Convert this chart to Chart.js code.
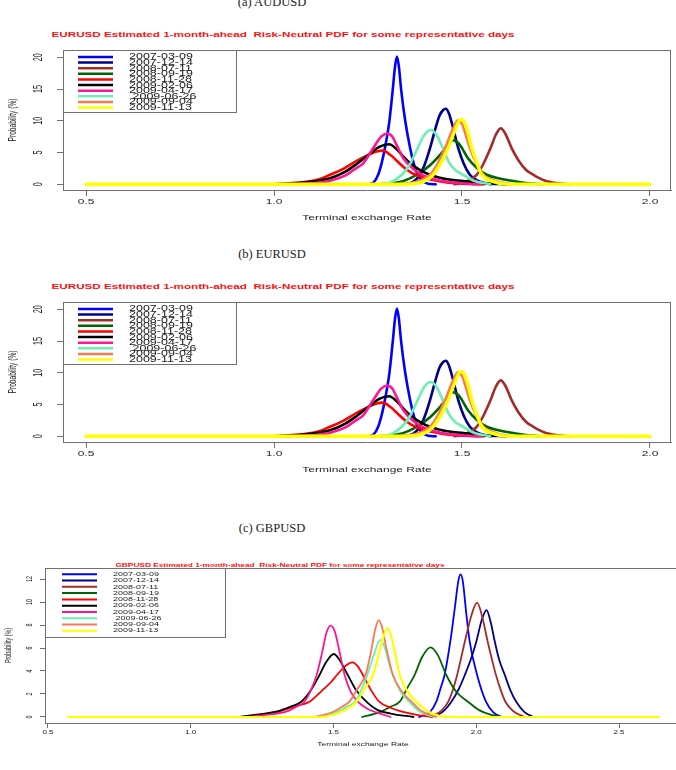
<!DOCTYPE html>
<html><head><meta charset="utf-8">
<script src="https://cdn.jsdelivr.net/npm/chart.js@4.4.1/dist/chart.umd.min.js"></script>
<style>
html,body{margin:0;padding:0;background:#fff;}
body{width:676px;height:770px;position:relative;overflow:hidden;font-family:"Liberation Sans",Arial,sans-serif;}
.cap{position:absolute;font-family:"Liberation Serif","Times New Roman",serif;font-size:12.5px;color:#222;white-space:pre;transform:translate(-50%,-50%);}
.ttl{position:absolute;font-weight:bold;color:#ff1010;white-space:pre;font-family:"Liberation Sans",Arial,sans-serif;}
canvas{position:absolute;left:0;}
</style></head><body>
<div class="cap" style="left:272px;top:2px">(a) AUDUSD</div>
<div class="ttl" id="ta" style="left:283px;top:34px;font-size:11.7px;transform:translate(-50%,-50%) scaleY(0.68)"></div>
<canvas id="ca" width="676" height="185" style="top:45px"></canvas>
<div class="cap" style="left:272px;top:253.5px">(b) EURUSD</div>
<div class="ttl" id="tb" style="left:283px;top:285.5px;font-size:11.7px;transform:translate(-50%,-50%) scaleY(0.68)"></div>
<canvas id="cb" width="676" height="185" style="top:297px"></canvas>
<div class="cap" style="left:272px;top:527.5px">(c) GBPUSD</div>
<div class="ttl" id="tc" style="left:280px;top:565px;font-size:8.3px;transform:translate(-50%,-50%) scaleY(0.68)"></div>
<canvas id="cc" width="676" height="210" style="top:560px"></canvas>
<script>
// ---------- DATA ----------
const dates = ['2007-03-09','2007-12-14','2008-07-11','2008-09-19','2008-11-28','2009-02-06','2009-04-17',' 2009-06-26','2009-09-04','2009-11-13'];
const titleEUR = 'EURUSD Estimated 1-month-ahead  Risk-Neutral PDF for some representative days';
const titleGBP = 'GBPUSD Estimated 1-month-ahead  Risk-Neutral PDF for some representative days';
const xTitle = 'Terminal exchange Rate';
const yTitle = 'Probability (%)';
const eurXTicks = [0.5, 1.0, 1.5, 2.0];
const eurYTicks = [0, 5, 10, 15, 20];
const gbpXTicks = [0.5, 1.0, 1.5, 2.0, 2.5];
const gbpYTicks = [0, 2, 4, 6, 8, 10, 12];

// EURUSD densities: [rate, probability %]
const eur_20070309 = [[1.25,0],[1.265,0.3],[1.277,1.5],[1.287,3.5],[1.295,5.7],[1.307,10],[1.316,15],[1.322,18.6],[1.327,20.1],[1.332,18.6],[1.338,15],[1.349,10],[1.362,5.7],[1.372,3.2],[1.382,1.5],[1.395,0.5],[1.41,0.1],[1.43,0]];
const eur_20071214 = [[1.34,0],[1.37,0.4],[1.388,1.5],[1.40,3.0],[1.415,5.7],[1.428,8.5],[1.44,10.8],[1.45,11.7],[1.457,11.9],[1.465,11.2],[1.475,9.2],[1.49,5.7],[1.505,3.2],[1.521,1.5],[1.54,0.6],[1.575,0]];
const eur_20080711 = [[1.48,0],[1.51,0.4],[1.539,1.5],[1.555,3.0],[1.576,5.7],[1.59,7.8],[1.603,8.8],[1.615,8.0],[1.632,5.7],[1.65,3.8],[1.67,2.3],[1.69,1.5],[1.72,0.6],[1.75,0.2],[1.79,0]];
const eur_20080919 = [[1.28,0],[1.33,0.3],[1.36,0.9],[1.39,1.9],[1.415,3.0],[1.44,4.5],[1.46,6.0],[1.476,6.95],[1.49,6.5],[1.50,5.7],[1.516,4.1],[1.539,2.6],[1.566,1.5],[1.60,0.9],[1.628,0.6],[1.67,0.2],[1.71,0]];
const eur_20081128 = [[0.99,0],[1.04,0.15],[1.08,0.35],[1.12,0.8],[1.149,1.5],[1.18,2.3],[1.22,3.7],[1.25,4.6],[1.275,5.2],[1.29,5.3],[1.31,4.6],[1.33,3.5],[1.353,2.3],[1.38,1.4],[1.42,0.7],[1.46,0.3],[1.52,0.05],[1.56,0]];
const eur_20090206 = [[1.0,0],[1.06,0.15],[1.10,0.4],[1.149,0.95],[1.19,2.0],[1.22,3.2],[1.255,4.8],[1.28,5.9],[1.306,6.3],[1.325,5.6],[1.345,4.3],[1.362,3.3],[1.39,2.2],[1.415,1.5],[1.45,0.9],[1.504,0.5],[1.56,0.15],[1.62,0]];
const eur_20090417 = [[1.05,0],[1.10,0.15],[1.149,0.55],[1.19,1.4],[1.215,2.4],[1.237,3.3],[1.264,5.7],[1.285,7.5],[1.301,8.0],[1.315,7.5],[1.326,6.2],[1.344,4.1],[1.371,2.4],[1.40,1.3],[1.44,0.6],[1.49,0.2],[1.55,0]];
const eur_20090626 = [[1.28,0],[1.31,0.3],[1.34,1.5],[1.36,3.0],[1.382,5.7],[1.40,7.8],[1.417,8.56],[1.432,7.8],[1.449,5.7],[1.465,3.5],[1.483,2.2],[1.503,1.5],[1.53,0.6],[1.575,0]];
const eur_20090904 = [[1.33,0],[1.38,0.4],[1.415,1.5],[1.435,3.2],[1.455,5.7],[1.475,8.6],[1.49,10.1],[1.50,9.5],[1.51,7.8],[1.521,5.7],[1.538,3.3],[1.557,1.5],[1.59,0.5],[1.63,0]];
const eur_20091113 = [[0.5,0],[1.35,0],[1.40,0.5],[1.423,1.5],[1.445,3.5],[1.463,5.7],[1.48,8.3],[1.496,10.2],[1.506,9.8],[1.515,8.3],[1.526,5.7],[1.54,3.3],[1.553,1.5],[1.58,0.5],[1.62,0.02],[2.0,0]];

// GBPUSD densities: [rate, probability %]
const gbp_20070309 = [[1.80,0],[1.84,0.5],[1.86,1.33],[1.875,2.5],[1.889,3.65],[1.909,6.55],[1.925,9.5],[1.937,11.8],[1.945,12.4],[1.953,11.8],[1.965,9.0],[1.977,6.55],[2.003,3.65],[2.034,1.33],[2.06,0.4],[2.09,0]];
const gbp_20071214 = [[1.84,0],[1.88,0.4],[1.913,1.33],[1.94,2.5],[1.96,3.65],[1.985,5.3],[2.0,6.55],[2.02,8.5],[2.036,9.3],[2.05,8.3],[2.065,6.55],[2.08,5.0],[2.1,3.65],[2.12,2.3],[2.14,1.33],[2.17,0.4],[2.20,0]];
const gbp_20080711 = [[1.84,0],[1.88,0.6],[1.902,1.33],[1.92,2.5],[1.933,3.65],[1.96,6.55],[1.985,9.0],[2.003,9.94],[2.02,8.8],[2.04,6.55],[2.055,5.0],[2.069,3.65],[2.085,2.4],[2.102,1.33],[2.13,0.5],[2.17,0]];
const gbp_20080919 = [[1.60,0],[1.66,0.4],[1.70,0.9],[1.732,1.33],[1.76,2.6],[1.784,3.65],[1.81,5.2],[1.84,6.06],[1.865,5.4],[1.895,3.65],[1.93,2.2],[1.971,1.33],[2.01,0.6],[2.05,0.2],[2.09,0]];
const gbp_20081128 = [[1.17,0],[1.22,0.1],[1.26,0.25],[1.31,0.46],[1.36,0.9],[1.416,1.33],[1.46,2.3],[1.49,3.0],[1.512,3.65],[1.54,4.4],[1.566,4.75],[1.585,4.4],[1.603,3.65],[1.63,2.4],[1.66,1.33],[1.70,0.8],[1.74,0.46],[1.80,0.15],[1.85,0]];
const gbp_20090206 = [[1.17,0],[1.23,0.2],[1.299,0.46],[1.35,0.9],[1.387,1.33],[1.42,2.3],[1.451,3.65],[1.475,4.8],[1.501,5.48],[1.52,5.0],[1.55,3.65],[1.58,2.3],[1.615,1.33],[1.655,0.6],[1.70,0.3],[1.78,0]];
const gbp_20090417 = [[1.20,0],[1.27,0.2],[1.334,0.46],[1.37,0.9],[1.398,1.33],[1.42,2.3],[1.441,3.65],[1.46,5.6],[1.475,7.3],[1.49,7.94],[1.505,7.4],[1.52,5.8],[1.539,3.65],[1.56,2.2],[1.585,1.33],[1.62,0.7],[1.65,0.4],[1.70,0]];
const gbp_20090626 = [[1.45,0],[1.50,0.3],[1.54,0.8],[1.574,1.33],[1.60,2.5],[1.618,3.65],[1.64,5.3],[1.664,6.7],[1.68,6.0],[1.695,4.6],[1.708,3.65],[1.735,2.2],[1.765,1.33],[1.80,0.5],[1.85,0]];
const gbp_20090904 = [[1.43,0],[1.47,0.2],[1.50,0.46],[1.53,0.9],[1.556,1.33],[1.58,2.3],[1.612,3.65],[1.63,5.5],[1.645,7.5],[1.658,8.43],[1.67,7.8],[1.685,6.0],[1.708,3.65],[1.74,2.2],[1.773,1.33],[1.81,0.5],[1.86,0]];
const gbp_20091113 = [[0.57,0],[1.45,0],[1.50,0.2],[1.54,0.6],[1.58,1.33],[1.61,2.5],[1.638,3.65],[1.66,5.6],[1.675,7.0],[1.688,7.7],[1.70,7.2],[1.715,5.6],[1.732,3.65],[1.76,2.2],[1.79,1.33],[1.83,0.5],[1.87,0.1],[1.92,0],[2.64,0]];

const eurSeries = [eur_20070309, eur_20071214, eur_20080711, eur_20080919, eur_20081128, eur_20090206, eur_20090417, eur_20090626, eur_20090904, eur_20091113];
const gbpSeries = [gbp_20070309, gbp_20071214, gbp_20080711, gbp_20080919, gbp_20081128, gbp_20090206, gbp_20090417, gbp_20090626, gbp_20090904, gbp_20091113];

// ---------- STYLE ----------
const colors = ['#0000FF','#00008B','#A52A2A','#006400','#FF0000','#000000','#FF1493','#6CEFB0','#FA7A55','#FFFF00'];
const FONT = '"Liberation Sans", Arial, Helvetica, sans-serif';

document.getElementById('ta').textContent = titleEUR;
document.getElementById('tb').textContent = titleEUR;
document.getElementById('tc').textContent = titleGBP;

const rStyle = {
  id: 'rstyle',
  afterDraw(chart, args, o) {
    const ctx = chart.ctx, a = chart.chartArea, xs = chart.scales.x, ys = chart.scales.y;
    ctx.save();
    ctx.strokeStyle = o.boxColor; ctx.lineWidth = 1;
    ctx.beginPath();
    const t = Math.round(a.top) + 0.5;
    ctx.moveTo(a.left, t); ctx.lineTo(a.right, t);
    if (o.boxRight) { const r = Math.round(a.right) - 0.5; ctx.moveTo(r, a.top); ctx.lineTo(r, a.bottom); }
    ctx.stroke();
    ctx.fillStyle = o.textColor; ctx.textAlign = 'center'; ctx.textBaseline = 'middle';
    ctx.font = o.yTickSize + 'px ' + FONT;
    ys.ticks.forEach(tk => {
      const py = ys.getPixelForValue(tk.value);
      ctx.save(); ctx.translate(o.yTickX, py); ctx.rotate(-Math.PI / 2); ctx.scale(o.sq, 1);
      ctx.fillText(String(tk.value), 0, 0); ctx.restore();
    });
    ctx.font = o.xTickSize + 'px ' + FONT;
    xs.ticks.forEach(tk => {
      const px = xs.getPixelForValue(tk.value);
      ctx.save(); ctx.translate(px, o.xTickY); ctx.scale(1, o.sq);
      ctx.fillText(tk.value.toFixed(1), 0, 0); ctx.restore();
    });
    ctx.font = o.xTitleSize + 'px ' + FONT;
    ctx.save(); ctx.translate(o.xTitleX != null ? o.xTitleX : (a.left + a.right) / 2, o.xTitleY); ctx.scale(1, o.sq);
    ctx.fillText(xTitle, 0, 0); ctx.restore();
    ctx.font = o.yTitleSize + 'px ' + FONT;
    ctx.save(); ctx.translate(o.yTitleX, (a.top + a.bottom) / 2); ctx.rotate(-Math.PI / 2); ctx.scale(o.sq, 1);
    ctx.fillText(yTitle, 0, 0); ctx.restore();
    // legend
    const L = o.legend;
    ctx.fillStyle = '#fff';
    ctx.fillRect(L.x0 + 1, L.y0 + 1, L.x1 - L.x0 - 1, L.y1 - L.y0 - 1);
    ctx.strokeStyle = o.boxColor; ctx.lineWidth = 1;
    ctx.strokeRect(L.x0 + 0.5, L.y0 + 0.5, L.x1 - L.x0, L.y1 - L.y0);
    ctx.textAlign = 'left'; ctx.font = L.size + 'px ' + FONT;
    chart.data.datasets.forEach((ds, i) => {
      const y = L.row0 + i * L.step;
      ctx.strokeStyle = ds.borderColor; ctx.lineWidth = L.lw;
      ctx.beginPath(); ctx.moveTo(L.lx0, y); ctx.lineTo(L.lx1, y); ctx.stroke();
      ctx.save(); ctx.translate(L.tx, y); ctx.scale(1, L.sq); ctx.fillStyle = o.textColor;
      ctx.fillText(ds.label, 0, 0); ctx.restore();
    });
    ctx.restore();
  }
};

function makeChart(id, series, xTicks, yTicks, c) {
  return new Chart(document.getElementById(id), {
    type: 'line',
    data: {
      datasets: series.map((s, i) => ({
        label: dates[i],
        data: s.map(p => ({ x: p[0], y: p[1] })),
        borderColor: colors[i],
        backgroundColor: colors[i],
        borderWidth: i === series.length - 1 ? c.lwLast : c.lw,
        pointRadius: 0,
        cubicInterpolationMode: 'monotone',
        borderJoinStyle: 'round',
        borderCapStyle: 'round',
        fill: false,
        order: series.length - i
      }))
    },
    options: {
      responsive: false, animation: false, events: [],
      layout: { padding: c.pad, autoPadding: false },
      plugins: { legend: { display: false }, title: { display: false }, tooltip: { enabled: false }, rstyle: c.text },
      scales: {
        x: {
          type: 'linear', min: c.xMin, max: c.xMax,
          afterBuildTicks: s => { s.ticks = xTicks.map(v => ({ value: v })); },
          afterFit: s => { s.height = c.xHeight; },
          ticks: { display: false },
          grid: { drawOnChartArea: false, drawTicks: true, tickLength: c.tickLen, color: '#707070', lineWidth: 1 },
          border: { display: true, color: '#707070', width: 1 }
        },
        y: {
          type: 'linear', min: c.yMin, max: c.yMax,
          afterBuildTicks: s => { s.ticks = yTicks.map(v => ({ value: v })); },
          afterFit: s => { s.width = c.yWidth; },
          ticks: { display: false },
          grid: { drawOnChartArea: false, drawTicks: true, tickLength: c.tickLen, color: '#707070', lineWidth: 1 },
          border: { display: true, color: '#707070', width: 1 }
        }
      }
    },
    plugins: [rStyle]
  });
}

const eurCfg = {
  pad: { top: 5, right: 5, left: 0, bottom: 0 },
  xHeight: 40, yWidth: 63, tickLen: 6,
  xMin: 0.4388, xMax: 2.0559, yMin: -0.898, yMax: 21.15,
  lw: 2.6, lwLast: 3.4,
  text: {
    boxColor: '#707070', textColor: '#222', boxRight: true, sq: 0.6,
    yTickX: 39, yTickSize: 12, xTickY: 157, xTickSize: 12,
    xTitleY: 173, xTitleSize: 12, yTitleX: 12.5, yTitleSize: 11,
    legend: { x0: 63, y0: 5, x1: 236, y1: 67, lx0: 78, lx1: 113, tx: 129, row0: 12, step: 5.62, size: 12.5, sq: 0.72, lw: 2.5 }
  }
};
const gbpCfg = {
  pad: { top: 8, right: 0, left: 0, bottom: 0 },
  xHeight: 47, yWidth: 45, tickLen: 5,
  xMin: 0.4895, xMax: 2.6996, yMin: -0.522, yMax: 12.957,
  lw: 1.8, lwLast: 2.2,
  text: {
    boxColor: '#707070', textColor: '#222', boxRight: false, sq: 0.6,
    yTickX: 30, yTickSize: 9, xTickY: 173, xTickSize: 8,
    xTitleX: 363, xTitleY: 185, xTitleSize: 8.5, yTitleX: 9, yTitleSize: 9,
    legend: { x0: 45, y0: 8, x1: 225, y1: 77, lx0: 62, lx1: 97, tx: 113, row0: 14.3, step: 6.27, size: 9, sq: 0.68, lw: 2 }
  }
};

makeChart('ca', eurSeries, eurXTicks, eurYTicks, eurCfg);
makeChart('cb', eurSeries, eurXTicks, eurYTicks, eurCfg);
makeChart('cc', gbpSeries, gbpXTicks, gbpYTicks, gbpCfg);
</script>
</body></html>
